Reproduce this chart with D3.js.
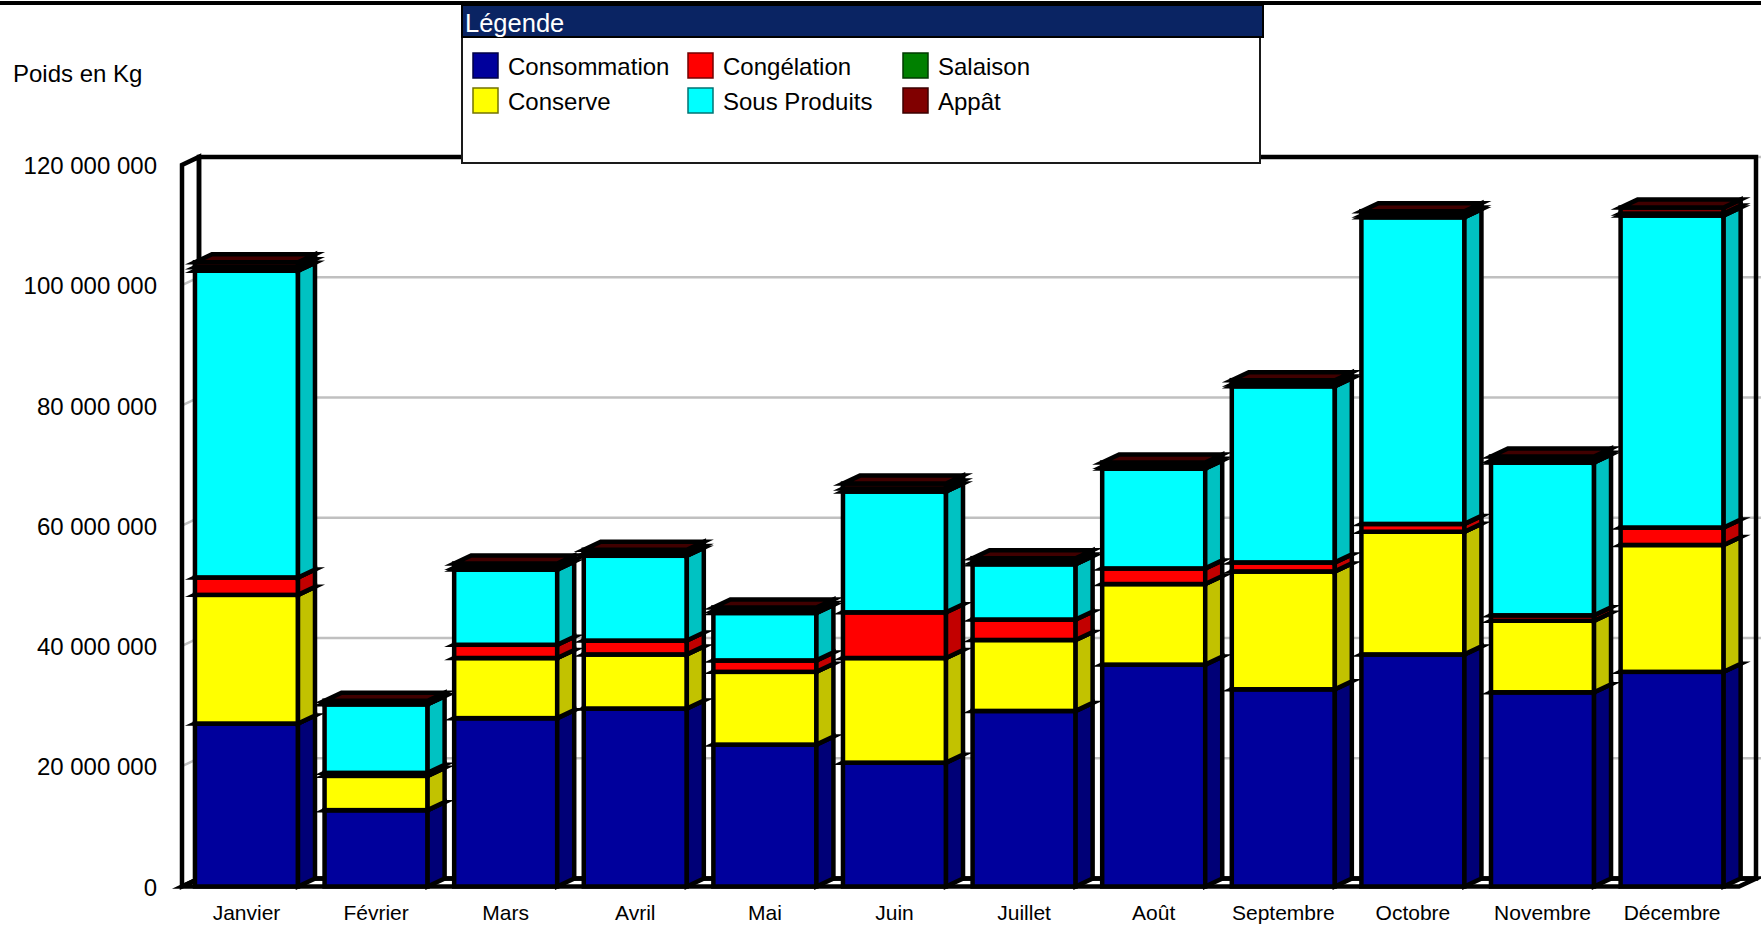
<!DOCTYPE html>
<html><head><meta charset="utf-8">
<script src="https://cdn.jsdelivr.net/npm/d3@7"></script>
<style>html,body{margin:0;padding:0;background:#fff;} svg{display:block;}</style>
</head><body>
<svg id="chart" width="1761" height="927"></svg>
<script>
const months = ["Janvier","Février","Mars","Avril","Mai","Juin","Juillet","Août","Septembre","Octobre","Novembre","Décembre"];
const seriesNames = ["Consommation","Conserve","Congélation","Sous Produits","Salaison","Appât"];
const seriesColors = ["#00009C","#FFFF00","#FF0000","#00FFFF","#008000","#800000"];
const consommation = [27100000,12700000,28000000,29600000,23600000,20600000,29200000,36900000,32800000,38600000,32300000,35700000];
const conserve     = [21400000,5700000,10000000,9000000,12100000,17400000,11800000,13400000,19600000,20400000,11900000,21100000];
const congelation  = [2900000,500000,2200000,2300000,1900000,7600000,3400000,2600000,1500000,1300000,900000,2900000];
const sousProduits = [51000000,11400000,12500000,14100000,7900000,20100000,9200000,16600000,29300000,51000000,25400000,51900000];
const salaison     = [600000,200000,300000,300000,300000,500000,300000,300000,300000,300000,300000,300000];
const appat        = [800000,400000,700000,700000,600000,800000,700000,700000,700000,700000,700000,1000000];
const yTicks = [0,20000000,40000000,60000000,80000000,100000000,120000000];
const yTitle = "Poids en Kg";
const legendTitle = "Légende";

const seriesValues = [consommation, conserve, congelation, sousProduits, salaison, appat];
const FONT = "'Liberation Sans', Arial, Helvetica, sans-serif";
const W = 1761, H = 927;
const DX = 17, DY = -8;
const svg = d3.select("#chart").style("font-family", FONT);

const x = d3.scaleBand().domain(months).range([182, 1736.6]).paddingInner(0.205).paddingOuter(0.1);
const y = d3.scaleLinear().domain([0, 120000000]).range([886.5, 164.9]);

const data = months.map((m, i) => {
  const o = {month: m};
  seriesNames.forEach((s, k) => o[s] = seriesValues[k][i]);
  return o;
});
const stacked = d3.stack().keys(seriesNames)(data);
const colorOf = d3.scaleOrdinal().domain(seriesNames).range(seriesColors);
const shade = (c, k) => { const r = d3.rgb(c); return d3.rgb(r.r*k, r.g*k, r.b*k).formatHex(); };
const fmt = d3.formatLocale({decimal: ",", thousands: " ", grouping: [3], currency: ["", ""]}).format(",");

// top page line
svg.append("line").attr("x1", 0).attr("x2", W).attr("y1", 3).attr("y2", 3)
  .attr("stroke", "#000").attr("stroke-width", 4);

const xL = 182, xR = 1739;
const yb = y(0), yt = y(120000000);
const pts = a => a.map(p => p.join(",")).join(" ");

const walls = svg.append("g");
const backPts = [[xL+DX, yt+DY], [xR+DX, yt+DY], [xR+DX, yb+DY], [xL+DX, yb+DY]];
const leftPts = [[xL, yb], [xL, yt], [xL+DX, yt+DY], [xL+DX, yb+DY]];
const floorPts = [[xL, yb], [xR, yb], [xR+DX, yb+DY], [xL+DX, yb+DY]];
walls.append("polygon").attr("points", pts(backPts)).attr("fill", "#fff");
walls.append("polygon").attr("points", pts(leftPts)).attr("fill", "#fff");
walls.append("polygon").attr("points", pts(floorPts)).attr("fill", "#fff");
// gridlines
walls.selectAll("line.gb").data(yTicks.slice(1)).join("line").attr("class", "gb")
  .attr("x1", xL+DX).attr("x2", xR+DX+5).attr("y1", d => y(d)+DY).attr("y2", d => y(d)+DY)
  .attr("stroke", "#c0c0c0").attr("stroke-width", 2.5);
walls.selectAll("line.gl").data(yTicks.slice(1)).join("line").attr("class", "gl")
  .attr("x1", xL).attr("x2", xL+DX).attr("y1", d => y(d)).attr("y2", d => y(d)+DY)
  .attr("stroke", "#c0c0c0").attr("stroke-width", 2.5);
const outl = sel => sel.attr("fill", "none").attr("stroke", "#000").attr("stroke-width", 4.5)
  .attr("stroke-linejoin", "miter").attr("stroke-miterlimit", 10);
walls.append("polygon").attr("points", pts(backPts)).call(outl);
walls.append("polygon").attr("points", pts(leftPts)).call(outl);
walls.append("polygon").attr("points", pts(floorPts)).call(outl);

// bars
const bars = svg.append("g");
months.forEach((m, i) => {
  const g = bars.append("g");
  const x0 = x(m), x1 = x(m) + x.bandwidth();
  stacked.forEach(layer => {
    const d = layer[i];
    const c = colorOf(layer.key);
    const ya = y(d[0]), yz = y(d[1]);
    const seg = g.append("g").attr("stroke", "#000").attr("stroke-width", 4.5)
      .attr("stroke-linejoin", "miter").attr("stroke-miterlimit", 10);
    seg.append("rect").attr("x", x0).attr("y", yz).attr("width", x1 - x0).attr("height", ya - yz).attr("fill", c);
    seg.append("polygon").attr("points", pts([[x1, ya], [x1, yz], [x1+DX, yz+DY], [x1+DX, ya+DY]])).attr("fill", shade(c, 0.76));
    seg.append("polygon").attr("points", pts([[x0, yz], [x1, yz], [x1+DX, yz+DY], [x0+DX, yz+DY]])).attr("fill", shade(c, 0.5));
  });
});

// axes
const yAxis = svg.append("g").attr("transform", "translate(157,0)")
  .call(d3.axisLeft(y).tickValues(yTicks).tickFormat(fmt).tickSize(0).tickPadding(0));
yAxis.select(".domain").remove();
yAxis.selectAll("text").attr("fill", "#000").attr("dy", "0.36em").style("font-size", "24px").style("font-family", FONT);

const xAxis = svg.append("g").attr("transform", "translate(0,905)")
  .call(d3.axisBottom(x).tickSize(0).tickPadding(0));
xAxis.select(".domain").remove();
xAxis.selectAll("text").attr("fill", "#000").style("font-size", "21px").style("font-family", FONT);

svg.append("text").text(yTitle).attr("x", 13).attr("y", 81.5).style("font-size", "24px").attr("fill", "#000");

// legend
const lg = svg.append("g");
lg.append("rect").attr("x", 462).attr("y", 36).attr("width", 798).attr("height", 127)
  .attr("fill", "#fff").attr("stroke", "#1a1a1a").attr("stroke-width", 2);
lg.append("rect").attr("x", 462).attr("y", 5).attr("width", 801).attr("height", 32)
  .attr("fill", "#0a2463").attr("stroke", "#000").attr("stroke-width", 2);
lg.append("text").text(legendTitle).attr("x", 465).attr("y", 31.5).attr("fill", "#fff").style("font-size", "25.5px");
const items = lg.selectAll("g.item").data(seriesNames).join("g").attr("class", "item")
  .attr("transform", (d, i) => `translate(${473 + Math.floor(i/2)*215},${53 + (i%2)*35})`);
items.append("rect").attr("width", 25).attr("height", 25).attr("fill", d => colorOf(d))
  .attr("stroke", d => shade(colorOf(d), 0.45)).attr("stroke-width", 1.5);
items.append("text").text(d => d).attr("x", 35).attr("y", 21.5).attr("fill", "#000").style("font-size", "24px");
</script>
</body></html>
